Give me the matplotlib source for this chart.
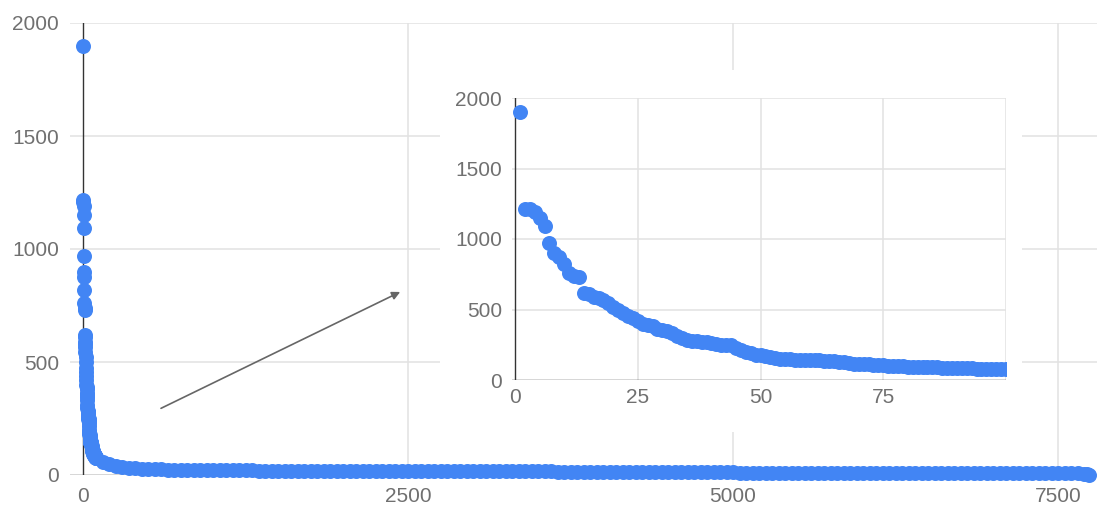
import matplotlib
matplotlib.use("Agg")
import matplotlib.pyplot as plt
import matplotlib.patches as mpatches
import numpy as np

# counts for ranks 1..100
top_counts = [
    1900, 1215, 1210, 1190, 1150, 1095, 970, 900, 875, 820,
    760, 740, 730, 620, 610, 590, 580, 565, 545, 520,
    500, 475, 455, 440, 420, 400, 390, 380, 365, 355,
    345, 330, 310, 295, 285, 280, 275, 272, 268, 262,
    255, 250, 248, 245, 230, 215, 200, 190, 180, 175,
    170, 160, 155, 150, 148, 146, 145, 144, 143, 142,
    141, 140, 138, 135, 133, 130, 125, 120, 117, 114,
    112, 110, 108, 106, 104, 102, 100, 98, 96, 95,
    94, 93, 92, 91, 90, 89, 88, 87, 86, 85,
    84, 83, 82, 81, 80, 79, 78, 77, 76, 75,
]

# long tail, sampled every 50 ranks from 150 to 7700
tail_ranks = list(range(150, 7701, 50))
tail_counts = [
    58, 48, 42, 37, 33, 30, 28, 27, 26, 25, 24, 23, 22, 22, 21, 21, 20, 20, 20, 20,
    20, 20, 20, 20, 19, 19, 19, 19, 19, 19, 19, 19, 19, 19, 19, 19, 18, 18, 18, 18,
    18, 18, 18, 18, 18, 18, 18, 18, 18, 18, 18, 18, 18, 18, 18, 18, 18, 18, 18, 18,
    18, 18, 17, 17, 17, 17, 17, 17, 17, 17, 12, 12, 12, 12, 12, 12, 12, 12, 12, 12,
    12, 12, 12, 12, 12, 12, 12, 12, 12, 12, 12, 12, 12, 12, 12, 12, 12, 12, 11, 11,
    11, 11, 11, 11, 11, 11, 11, 11, 11, 11, 11, 11, 11, 11, 11, 11, 11, 11, 11, 11,
    11, 11, 11, 11, 11, 11, 10, 10, 10, 10, 10, 10, 10, 10, 10, 10, 10, 10, 10, 10,
    10, 10, 10, 10, 10, 10, 10, 9, 9, 8, 7, 6,
]
end_ranks = [7720, 7740]
end_counts = [4, 2]

main_xticks = [0, 2500, 5000, 7500]
main_yticks = [0, 500, 1000, 1500, 2000]
inset_xticks = [0, 25, 50, 75]
inset_ygrid = [500, 1000, 1500, 2000]

BLUE = "#4285F4"
GRID = "#e2e2e2"
AXIS = "#333333"
TEXT = "#707070"
MS = 10.8

plt.rcParams["font.family"] = ["Liberation Sans", "DejaVu Sans"]

top_ranks = np.arange(1, len(top_counts) + 1)
ranks = np.concatenate([top_ranks, tail_ranks, end_ranks])
counts = np.concatenate([top_counts, tail_counts, end_counts])


def style_axes(ax, xgrid, ygrid):
    for s in ax.spines.values():
        s.set_visible(False)
    for x in xgrid:
        ax.axvline(x, color=GRID, lw=1.1, zorder=0)
    for y in ygrid:
        ax.axhline(y, color=GRID, lw=1.1, zorder=0)
    ax.axvline(0, color=AXIS, lw=1.0, zorder=1)
    ax.axhline(0, color=AXIS, lw=1.0, zorder=1)
    ax.tick_params(length=0, labelsize=15, labelcolor=TEXT)


fig = plt.figure(figsize=(11.01, 5.07), dpi=100)

ax = fig.add_axes([70 / 1101, 32 / 507, 1027 / 1101, 452 / 507])
ax.plot(ranks, counts, "o", color=BLUE, ms=MS, mew=0, zorder=2, clip_on=False)
ax.set_xlim(-100, 7800)
ax.set_ylim(0, 2000)
style_axes(ax, main_xticks[1:], main_yticks[1:])
ax.set_xticks(main_xticks)
ax.set_yticks(main_yticks)
ax.tick_params(axis="x", pad=9)
ax.tick_params(axis="y", pad=8)

ax.annotate("", xy=(2440, 810), xytext=(600, 295),
            arrowprops=dict(arrowstyle="-|>", color="#666666", lw=1.2,
                            mutation_scale=12, shrinkA=0, shrinkB=0))

# white panel behind the zoomed-in inset
fig.patches.append(mpatches.Rectangle((440 / 1101, 75 / 507), 582 / 1101, 362 / 507,
                                      transform=fig.transFigure, facecolor="white",
                                      edgecolor="none", zorder=3))

ins = fig.add_axes([511.7 / 1101, 127 / 507, 494.3 / 1101, 282 / 507], zorder=4)
ins.patch.set_alpha(0)
ins.plot(top_ranks, top_counts, "o", color=BLUE, ms=MS, mew=0, zorder=2)
ins.plot(tail_ranks[:2], tail_counts[:2], "o", color=BLUE, ms=MS, mew=0, zorder=2)
ins.set_xlim(-0.7, 100)
ins.set_ylim(0, 2000)
style_axes(ins, inset_xticks[1:] + [100], inset_ygrid)
ins.set_xticks(inset_xticks)
ins.set_yticks([0] + inset_ygrid)
ins.tick_params(axis="x", pad=6)
ins.tick_params(axis="y", pad=7)

fig.savefig("out.png", dpi=100, facecolor="white")
